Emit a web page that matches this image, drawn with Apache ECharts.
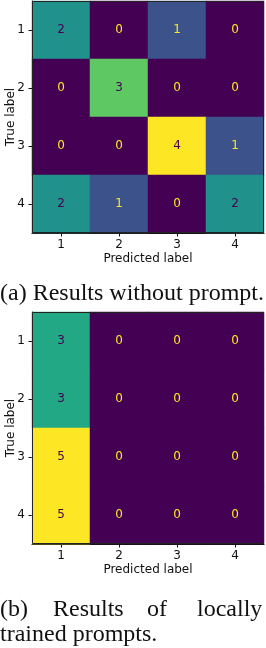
<!DOCTYPE html>
<html>
<head>
<meta charset="utf-8">
<script src="https://cdn.jsdelivr.net/npm/echarts@6/dist/echarts.min.js"></script>
<style>
html,body{margin:0;padding:0;background:#fff;}
#chart{width:266px;height:648px;}
</style>
</head>
<body>
<div id="chart"></div>
<script>
// ---- data ----
const labels = ['1', '2', '3', '4'];
// rows = true label, cols = predicted label
const matrixA = [
  [2, 0, 1, 0],
  [0, 3, 0, 0],
  [0, 0, 4, 1],
  [2, 1, 0, 2]
];
const matrixB = [
  [3, 0, 0, 0],
  [3, 0, 0, 0],
  [5, 0, 0, 0],
  [5, 0, 0, 0]
];
const captionA = '(a) Results without prompt.';
const captionBWords = ['(b)', 'Results', 'of', 'locally'];
const captionBLine2 = 'trained prompts.';
const xName = 'Predicted label';
const yName = 'True label';

// ---- style ----
const viridis = ['#440154','#471365','#482475','#463480','#414487','#3b528b','#355f8d','#2f6c8e','#2a788e','#25848e','#21918c','#1e9c89','#22a884','#2fb47c','#44bf70','#5ec962','#7ad151','#9bd93c','#bddf26','#dfe318','#fde725'];
const FONT = 'DejaVu Sans';

function buildData(m) {
  let mx = 0;
  m.forEach(r => r.forEach(v => { if (v > mx) mx = v; }));
  const thr = mx / 2;
  const out = [];
  m.forEach((row, i) => row.forEach((v, j) => {
    out.push({ value: [j, i, v], label: { color: v < thr ? '#fde725' : '#440154' } });
  }));
  return { data: out, max: mx };
}
const A = buildData(matrixA);
const B = buildData(matrixB);

const grids = [
  { left: 32, top: 1, width: 232, height: 232, containLabel: false, outerBoundsMode: 'none' },
  { left: 32, top: 312, width: 232, height: 232, containLabel: false, outerBoundsMode: 'none' }
];

function xAx(gi) {
  return {
    type: 'category', data: labels, gridIndex: gi,
    name: xName, nameLocation: 'middle', nameGap: 20, nameMoveOverlap: false,
    nameTextStyle: { fontFamily: FONT, fontSize: 12, color: '#111' },
    axisLine: { show: true, lineStyle: { color: '#111', width: 1 } },
    axisTick: { show: true, alignWithLabel: true, length: 3.5, lineStyle: { color: '#111' } },
    axisLabel: { fontFamily: FONT, fontSize: 12, color: '#111', margin: 6 },
    splitLine: { show: false }
  };
}
function yAx(gi) {
  return {
    type: 'category', data: labels, gridIndex: gi, inverse: true,
    name: yName, nameLocation: 'middle', nameGap: 15, nameMoveOverlap: false,
    nameTextStyle: { fontFamily: FONT, fontSize: 12, color: '#111' },
    axisLine: { show: true, lineStyle: { color: '#111', width: 1 } },
    axisTick: { show: true, alignWithLabel: true, length: 3.5, lineStyle: { color: '#111' } },
    axisLabel: { fontFamily: FONT, fontSize: 12, color: '#111', margin: 7 },
    splitLine: { show: false }
  };
}

const chart = echarts.init(document.getElementById('chart'), null, { renderer: 'canvas' });

const captionStyle = { fontFamily: 'Liberation Serif', fontSize: 24, fill: '#111' };
const bXs = [0, 53, 147, 197];
const graphics = [
  { type: 'text', left: 0, top: 282, style: Object.assign({ text: captionA }, captionStyle) }
];
captionBWords.forEach((w, k) => {
  graphics.push({ type: 'text', left: bXs[k], top: 598, style: Object.assign({ text: w }, captionStyle) });
});
graphics.push({ type: 'text', left: 0, top: 623, style: Object.assign({ text: captionBLine2 }, captionStyle) });
// spines (full border)
grids.forEach(g => {
  graphics.push({ type: 'rect', shape: { x: g.left + 0.5, y: g.top + 0.5, width: g.width - 1, height: g.height - 1 },
    style: { fill: 'none', stroke: '#222', lineWidth: 1 }, z: 100 });
});

chart.setOption({
  animation: false,
  backgroundColor: '#fff',
  grid: grids,
  xAxis: [xAx(0), xAx(1)],
  yAxis: [yAx(0), yAx(1)],
  visualMap: [
    { show: false, seriesIndex: 0, min: 0, max: A.max, dimension: 2, inRange: { color: viridis } },
    { show: false, seriesIndex: 1, min: 0, max: B.max, dimension: 2, inRange: { color: viridis } }
  ],
  series: [
    { type: 'heatmap', xAxisIndex: 0, yAxisIndex: 0, data: A.data,
      label: { show: true, fontFamily: FONT, fontSize: 12 }, itemStyle: { borderWidth: 0 } },
    { type: 'heatmap', xAxisIndex: 1, yAxisIndex: 1, data: B.data,
      label: { show: true, fontFamily: FONT, fontSize: 12 }, itemStyle: { borderWidth: 0 } }
  ],
  graphic: graphics
});
</script>
</body>
</html>
